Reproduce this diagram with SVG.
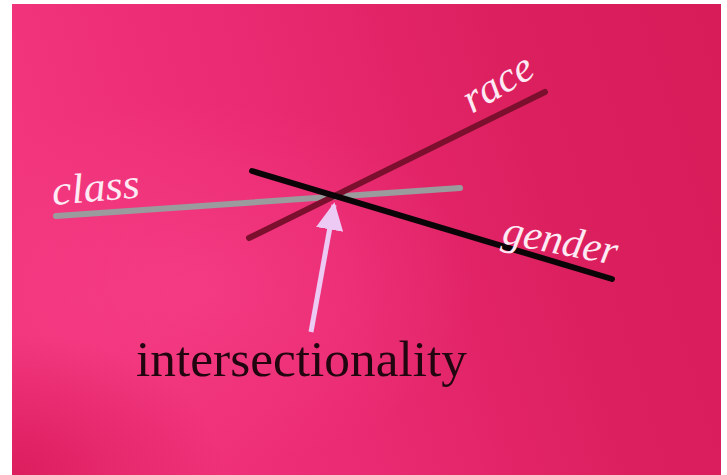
<svg xmlns="http://www.w3.org/2000/svg" width="727" height="475" viewBox="0 0 727 475">
  <defs>
    <linearGradient id="bg" x1="0" y1="0.3" x2="1" y2="0.1">
      <stop offset="0" stop-color="#f2357d"/>
      <stop offset="0.35" stop-color="#ea2a72"/>
      <stop offset="0.7" stop-color="#dc205f"/>
      <stop offset="1" stop-color="#d81c5a"/>
    </linearGradient>
    <radialGradient id="bl" cx="0" cy="1" r="0.3">
      <stop offset="0" stop-color="#d61856" stop-opacity="0.8"/>
      <stop offset="1" stop-color="#d61856" stop-opacity="0"/>
    </radialGradient>
    <radialGradient id="glow" cx="0.25" cy="0.6" r="0.4">
      <stop offset="0" stop-color="#f7428a" stop-opacity="0.6"/>
      <stop offset="1" stop-color="#f7428a" stop-opacity="0"/>
    </radialGradient>
    <marker id="head" viewBox="0 0 10 10" refX="9" refY="5" markerWidth="5.5" markerHeight="5.5" orient="auto" markerUnits="strokeWidth">
      <path d="M0,0 L10,5 L0,10 Z" fill="#eccaf3"/>
    </marker>
    <style>
      .axis { fill: none; stroke-linecap: round; stroke-width: 6; }
      .script { font-family: "Liberation Serif", "DejaVu Serif", serif; font-style: italic; fill: #fdeaf4; }
      .title { font-family: "Liberation Serif", "DejaVu Serif", serif; fill: #22060f; }
    </style>
  </defs>
  <rect x="0" y="0" width="727" height="475" fill="#ffffff"/>
  <rect x="12" y="4" width="709" height="471" fill="url(#bg)"/>
  <rect x="12" y="4" width="709" height="471" fill="url(#glow)"/>
  <rect x="12" y="4" width="709" height="471" fill="url(#bl)"/>

  <g id="class">
    <line class="axis" x1="56" y1="216" x2="460" y2="188" stroke="#9b9a9c"/>
    <text class="script" x="53" y="205" font-size="42" textLength="88" lengthAdjust="spacingAndGlyphs" transform="rotate(-5 53 205)">class</text>
  </g>
  <g id="race">
    <line class="axis" x1="249" y1="238" x2="545" y2="92" stroke="#7c0f2e" stroke-width="5"/>
    <text class="script" x="472" y="114" font-size="42" textLength="76" lengthAdjust="spacingAndGlyphs" transform="rotate(-31 472 114)">race</text>
  </g>
  <g id="gender">
    <line class="axis" x1="252" y1="171" x2="612" y2="279" stroke="#0c0508"/>
    <text class="script" x="501" y="243" font-size="42" textLength="116" lengthAdjust="spacingAndGlyphs" transform="rotate(11 501 243)">gender</text>
  </g>
  <g id="connectors">
    <line x1="311" y1="332" x2="334" y2="205" stroke="#eccaf3" stroke-width="5" marker-end="url(#head)"/>
  </g>
  <g id="intersectionality">
    <text class="title" x="136" y="376" font-size="50" textLength="331" lengthAdjust="spacingAndGlyphs">intersectionality</text>
  </g>
</svg>
